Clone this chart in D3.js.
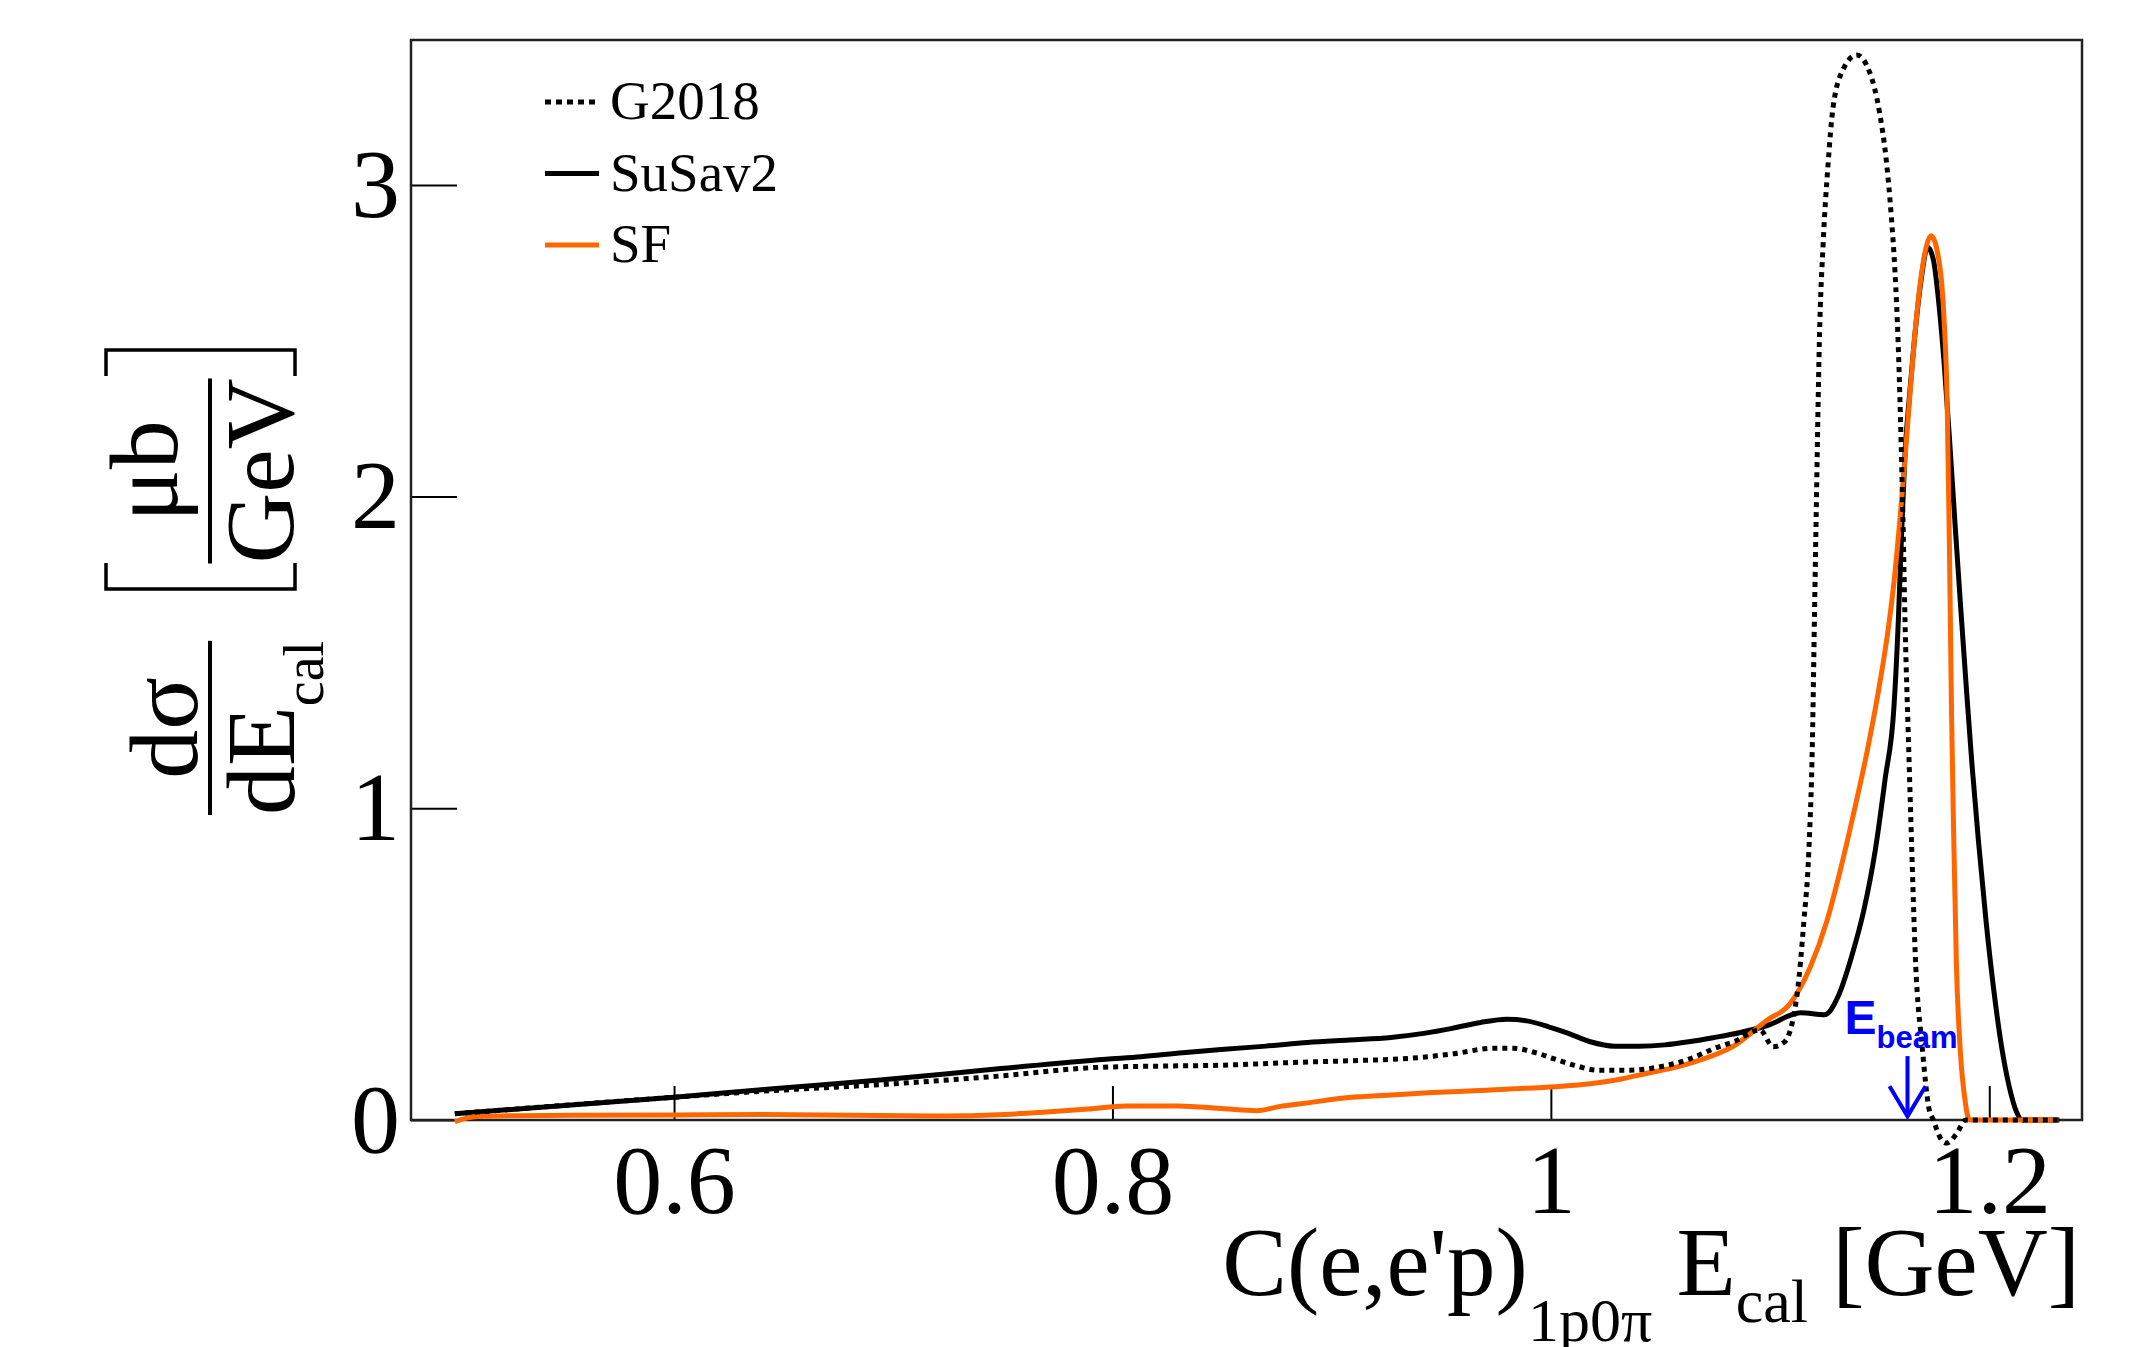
<!DOCTYPE html>
<html>
<head>
<meta charset="utf-8">
<script src="https://cdn.jsdelivr.net/npm/d3@7"></script>
<style>
  body { margin: 0; background: #fff; }
  text { font-family: "Liberation Serif", "Times New Roman", serif; }
</style>
</head>
<body>
<div id="chart"></div>
<script>
// Data
// ================================
var g2018X = [0.500, 0.600, 0.635, 0.704, 0.745, 0.794, 0.823, 0.851, 0.880, 0.908, 0.936, 0.955, 0.974, 0.983, 0.993, 1.002, 1.012, 1.021, 1.036, 1.050, 1.063, 1.074, 1.0837, 1.0954, 1.1014, 1.1065, 1.1124, 1.1154, 1.1177, 1.1193, 1.1203, 1.1212, 1.1218, 1.1225, 1.1242, 1.1264, 1.1287, 1.1333, 1.1395, 1.1455, 1.1500, 1.1530, 1.1553, 1.1570, 1.1584, 1.1595, 1.1607, 1.1617, 1.1630, 1.1645, 1.1663, 1.1694, 1.1724, 1.1745, 1.1775, 1.1805, 1.1850, 1.1893, 1.2320];
var g2018Y = [0.020, 0.073, 0.090, 0.118, 0.139, 0.169, 0.173, 0.176, 0.184, 0.190, 0.198, 0.212, 0.230, 0.230, 0.216, 0.195, 0.173, 0.160, 0.160, 0.171, 0.195, 0.228, 0.252, 0.289, 0.235, 0.250, 0.407, 0.636, 0.866, 1.210, 1.634, 2.006, 2.254, 2.500, 2.810, 3.060, 3.247, 3.370, 3.417, 3.360, 3.230, 3.080, 2.900, 2.720, 2.500, 2.250, 1.900, 1.560, 1.250, 0.900, 0.520, 0.235, 0.040, 0.000, -0.055, -0.074, -0.045, 0.000, 0.000];

var susavX = [0.500, 0.600, 0.645, 0.694, 0.749, 0.797, 0.813, 0.832, 0.851, 0.870, 0.889, 0.908, 0.927, 0.942, 0.955, 0.968, 0.980, 0.989, 0.999, 1.008, 1.018, 1.029, 1.040, 1.052, 1.063, 1.074, 1.086, 1.099, 1.114, 1.125, 1.131, 1.137, 1.143, 1.148, 1.1525, 1.1565, 1.1585, 1.1600, 1.1615, 1.1635, 1.1658, 1.1688, 1.1719, 1.1745, 1.1770, 1.1795, 1.1820, 1.1845, 1.1870, 1.1895, 1.1920, 1.1950, 1.1985, 1.2020, 1.2055, 1.2090, 1.2125, 1.2150, 1.2320];
var susavY = [0.020, 0.073, 0.100, 0.128, 0.165, 0.195, 0.203, 0.216, 0.227, 0.237, 0.249, 0.257, 0.265, 0.278, 0.294, 0.313, 0.323, 0.318, 0.299, 0.278, 0.251, 0.237, 0.237, 0.241, 0.251, 0.264, 0.280, 0.304, 0.344, 0.338, 0.396, 0.520, 0.680, 0.866, 1.095, 1.324, 1.600, 1.880, 2.130, 2.316, 2.500, 2.690, 2.800, 2.760, 2.620, 2.420, 2.170, 1.900, 1.640, 1.390, 1.150, 0.900, 0.640, 0.420, 0.240, 0.110, 0.025, 0.000, 0.000];

var sfX = [0.500, 0.510, 0.530, 0.600, 0.640, 0.720, 0.751, 0.770, 0.789, 0.806, 0.830, 0.851, 0.866, 0.876, 0.889, 0.908, 0.927, 0.946, 0.965, 0.983, 1.002, 1.018, 1.031, 1.044, 1.059, 1.068, 1.0833, 1.0986, 1.109, 1.1183, 1.126, 1.132, 1.138, 1.1442, 1.1505, 1.1536, 1.1566, 1.1589, 1.1612, 1.1635, 1.1658, 1.1688, 1.1712, 1.1734, 1.1772, 1.1794, 1.1808, 1.1818, 1.1828, 1.1838, 1.1850, 1.1868, 1.1890, 1.1910, 1.2315];
var sfY = [-0.005, 0.011, 0.014, 0.016, 0.018, 0.013, 0.018, 0.026, 0.035, 0.045, 0.045, 0.036, 0.030, 0.043, 0.055, 0.072, 0.080, 0.088, 0.094, 0.100, 0.107, 0.116, 0.130, 0.150, 0.173, 0.192, 0.237, 0.320, 0.372, 0.490, 0.640, 0.800, 0.980, 1.180, 1.420, 1.560, 1.730, 1.900, 2.090, 2.300, 2.500, 2.700, 2.800, 2.837, 2.750, 2.564, 2.300, 1.850, 1.300, 0.900, 0.500, 0.220, 0.060, 0.000, 0.000];

var xTicks = [0.6, 0.8, 1.0, 1.2];
var yTicks = [0, 1, 2, 3];
var legendNames = ["G2018", "SuSav2", "SF"];
var eBeam = 1.1627;

// Set up chart
// ================================
var svgWidth = 2149;
var svgHeight = 1347;

var frame = { left: 411, right: 2082, top: 40, bottom: 1120 };
var orange = "#ff6600";
var blue = "#0000ff";

var svg = d3.select("#chart")
  .append("svg")
  .attr("width", svgWidth)
  .attr("height", svgHeight);

var xScale = d3.scaleLinear()
  .domain([0.48, 1.2423])
  .range([frame.left, frame.right]);

var yScale = d3.scaleLinear()
  .domain([0, 3.465])
  .range([frame.bottom, frame.top]);

// axes, ROOT style ticks pointing inward
var bottomAxis = d3.axisBottom(xScale)
  .tickValues(xTicks)
  .tickFormat(d3.format("~g"))
  .tickSizeInner(-34)
  .tickSizeOuter(0)
  .tickPadding(23);

var leftAxis = d3.axisLeft(yScale)
  .tickValues(yTicks)
  .tickFormat(d3.format("d"))
  .tickSizeInner(-46)
  .tickSizeOuter(0)
  .tickPadding(11);

var gx = svg.append("g")
  .attr("transform", `translate(0, ${frame.bottom})`)
  .call(bottomAxis);

var gy = svg.append("g")
  .attr("transform", `translate(${frame.left}, 0)`)
  .call(leftAxis);

[gx, gy].forEach(function (g) {
  g.select(".domain").remove();
  g.selectAll(".tick line").attr("stroke", "#000").attr("stroke-width", 2);
  g.selectAll(".tick text")
    .style("font-family", "Liberation Serif")
    .style("font-size", "98px")
    .attr("fill", "#000");
});

// frame
svg.append("rect")
  .attr("x", frame.left)
  .attr("y", frame.top)
  .attr("width", frame.right - frame.left)
  .attr("height", frame.bottom - frame.top)
  .attr("fill", "none")
  .attr("stroke", "#222")
  .attr("stroke-width", 2.5);

// curves
function pairs(xs, ys) {
  return xs.map(function (x, i) { return [x, ys[i]]; });
}

var line = d3.line()
  .x(d => xScale(d[0]))
  .y(d => yScale(d[1]))
  .curve(d3.curveMonotoneX);

svg.append("path")
  .datum(pairs(susavX, susavY))
  .attr("d", line)
  .attr("fill", "none")
  .attr("stroke", "#000")
  .attr("stroke-width", 5);

svg.append("path")
  .datum(pairs(sfX, sfY))
  .attr("d", line)
  .attr("fill", "none")
  .attr("stroke", orange)
  .attr("stroke-width", 5);

svg.append("path")
  .datum(pairs(g2018X, g2018Y))
  .attr("d", line)
  .attr("fill", "none")
  .attr("stroke", "#000")
  .attr("stroke-width", 5)
  .attr("stroke-dasharray", "5,5");

// legend
var legendStyles = [
  { color: "#000", dash: "6,5" },
  { color: "#000", dash: null },
  { color: orange, dash: null }
];

legendNames.forEach(function (name, i) {
  var y = 102 + i * 71.5;
  svg.append("line")
    .attr("x1", 545).attr("x2", 599)
    .attr("y1", y).attr("y2", y)
    .attr("stroke", legendStyles[i].color)
    .attr("stroke-width", 5)
    .attr("stroke-dasharray", legendStyles[i].dash);
  svg.append("text")
    .attr("x", 610)
    .attr("y", y + 17)
    .style("font-size", "55px")
    .style("fill", "#000")
    .text(name);
});

// E_beam arrow
var ax = xScale(eBeam);
var ay1 = yScale(0.205);
var ay2 = yScale(0.012);
svg.append("line")
  .attr("x1", ax).attr("x2", ax)
  .attr("y1", ay1).attr("y2", ay2)
  .attr("stroke", blue)
  .attr("stroke-width", 4);
svg.append("path")
  .attr("d", `M${ax - 18},${ay2 - 30} L${ax},${ay2} L${ax + 18},${ay2 - 30}`)
  .attr("fill", "none")
  .attr("stroke", blue)
  .attr("stroke-width", 4);

var ebText = svg.append("text")
  .attr("x", ax - 63)
  .attr("y", yScale(0.275))
  .style("font-family", "Liberation Sans, Arial, sans-serif")
  .style("font-weight", "bold")
  .style("fill", blue);
ebText.append("tspan").style("font-size", "48px").text("E");
ebText.append("tspan").style("font-size", "31px").attr("dy", 14).text("beam");

// x axis title
var xt = svg.append("text")
  .attr("x", 2080)
  .attr("y", 1295)
  .attr("text-anchor", "end")
  .style("font-size", "97px")
  .style("fill", "#000");
xt.append("tspan").text("C(e,e'p)");
xt.append("tspan").style("font-size", "62px").attr("dy", 46).text("1p0\u03c0");
xt.append("tspan").attr("dy", -46).text(" E");
xt.append("tspan").style("font-size", "62px").attr("dy", 27).text("cal");
xt.append("tspan").attr("dy", -27).text(" [GeV]");

// y axis title: d sigma / dE_cal [ mu b / GeV ]
var fs = 98;
var barX = 210;

var denom = svg.append("text")
  .attr("transform", "translate(294, 815) rotate(-90)")
  .attr("text-anchor", "start")
  .style("font-size", fs + "px")
  .style("fill", "#000");
denom.append("tspan").text("dE");
denom.append("tspan").style("font-size", "56px").attr("dy", 29).text("cal");
var denomLen = denom.node().getComputedTextLength();

svg.append("line")
  .attr("x1", barX).attr("x2", barX)
  .attr("y1", 815).attr("y2", 815 - denomLen)
  .attr("stroke", "#000").attr("stroke-width", 4);

svg.append("text")
  .attr("transform", `translate(197, ${815 - denomLen / 2}) rotate(-90)`)
  .attr("text-anchor", "middle")
  .style("font-size", fs + "px")
  .style("fill", "#000")
  .text("d\u03c3");

var gev = svg.append("text")
  .attr("transform", "translate(293, 471) rotate(-90)")
  .attr("text-anchor", "middle")
  .style("font-size", fs + "px")
  .style("fill", "#000")
  .text("GeV");
var gevLen = gev.node().getComputedTextLength();

svg.append("text")
  .attr("transform", "translate(177, 471) rotate(-90)")
  .attr("text-anchor", "middle")
  .style("font-size", fs + "px")
  .style("fill", "#000")
  .text("\u03bcb");

svg.append("line")
  .attr("x1", barX).attr("x2", barX)
  .attr("y1", 471 - gevLen / 2).attr("y2", 471 + gevLen / 2)
  .attr("stroke", "#000").attr("stroke-width", 4);

// brackets
svg.append("path")
  .attr("d", "M106,376 L106,350 L295,350 L295,376")
  .attr("fill", "none").attr("stroke", "#000").attr("stroke-width", 3.5);
svg.append("path")
  .attr("d", "M106,563 L106,589 L295,589 L295,563")
  .attr("fill", "none").attr("stroke", "#000").attr("stroke-width", 3.5);
</script>
</body>
</html>
